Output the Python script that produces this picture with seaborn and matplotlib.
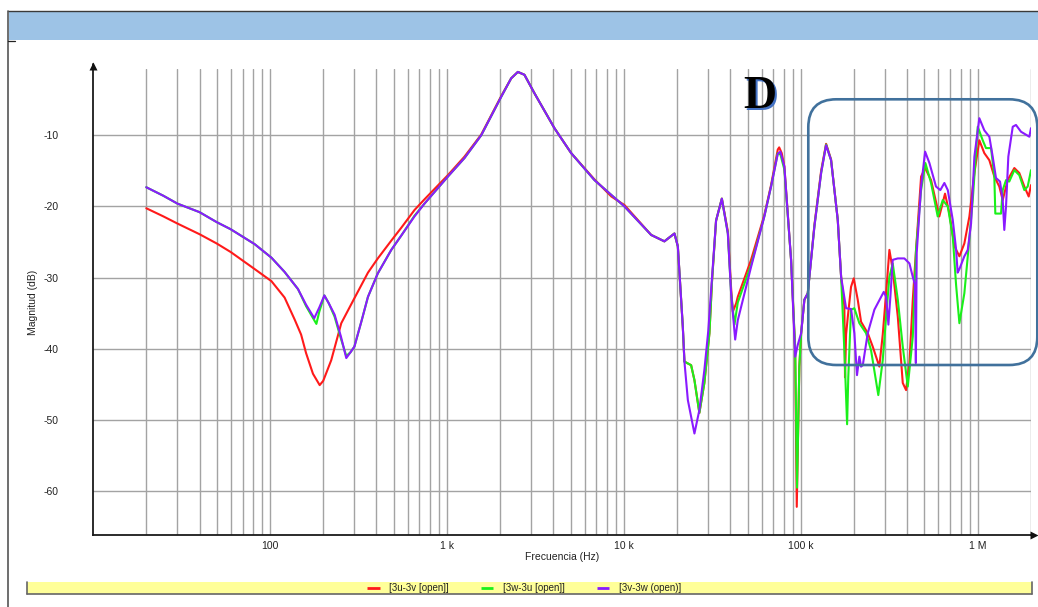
import matplotlib
matplotlib.use("Agg")
import matplotlib.pyplot as plt
import numpy as np
import pandas as pd
import seaborn as sns
from matplotlib.patches import Rectangle, FancyBboxPatch
from matplotlib.ticker import FixedLocator, NullFormatter

sns.set_theme(style="white")
plt.rcParams['font.family'] = ['Liberation Sans', 'DejaVu Sans']

# ---------------- data ----------------
series_names = ["[3u-3v [open]]", "[3w-3u [open]]", "[3v-3w (open)]"]
series_colors = ["#FF1A1A", "#1AF01A", "#8A1AFF"]

freq_red = [20, 25, 30, 40, 50, 60, 82, 102, 121, 138, 150, 160, 175, 191, 200, 222, 253, 300, 358, 407,
            485, 552, 656, 747, 1013, 1257, 1563, 2027, 2308, 2518, 2743, 3126, 4053, 5037, 6823, 8500,
            10080, 14270, 16950, 19320, 20190, 21540, 22000, 24000, 25060, 26720, 28510, 30460, 31500,
            33200, 35800, 38710, 40390, 41280, 43140, 44040, 52360, 62230, 67920, 74130, 75500, 78000,
            80760, 88120, 92890, 94900, 98130, 100470, 104800, 109500, 119400, 130300, 139000, 148300,
            161800, 169000, 176300, 177800, 180300, 184400, 192300, 199200, 209800, 219100, 239000,
            255100, 277900, 290500, 303500, 316800, 330800, 353400, 377000, 393600, 411000, 429500,
            448100, 478600, 504200, 544700, 606500, 653300, 691900, 738400, 787700, 840100, 897300,
            957300, 1021000, 1089000, 1163000, 1241000, 1324000, 1384000, 1476000, 1610000, 1718000,
            1834000, 1941000, 2000000]
db_red = [-20.25, -21.4, -22.4, -23.9, -25.2, -26.4, -28.8, -30.5, -32.8, -35.9, -38.0, -40.6, -43.5, -45.1,
          -44.5, -41.6, -36.4, -32.9, -29.3, -27.3, -24.8, -23.0, -20.5, -19.0, -15.6, -13.0, -9.9, -4.5,
          -2.0, -1.1, -1.5, -4.1, -9.0, -12.5, -16.2, -18.6, -19.8, -24.0, -24.9, -23.8, -25.6, -36.9,
          -41.8, -42.3, -44.4, -49.0, -44.8, -37.8, -30.5, -22.0, -18.9, -23.5, -31.5, -34.8, -33.6,
          -32.7, -27.5, -21.2, -17.0, -12.0, -11.7, -12.5, -14.4, -27.5, -40.0, -62.2, -42.5, -37.8,
          -33.1, -32.2, -22.6, -15.0, -11.2, -13.4, -21.9, -29.9, -34.0, -44.0, -38.0, -35.5, -31.3,
          -30.1, -33.1, -36.2, -37.8, -39.7, -42.5, -38.0, -32.2, -26.1, -28.9, -35.5, -44.8, -45.8,
          -42.0, -33.1, -26.1, -15.8, -14.6, -16.3, -21.4, -18.2, -21.0, -25.6, -27.0, -25.2, -21.4,
          -15.3, -10.7, -12.5, -13.5, -15.8, -17.2, -19.1, -16.3, -14.6, -15.3, -17.2, -18.6, -17.0]

freq_green = [20, 25, 30, 40, 50, 60, 82, 102, 121, 144, 160, 183, 190, 203, 215, 232, 252, 270, 285, 300,
              330, 358, 407, 485, 552, 656, 747, 1013, 1257, 1563, 2027, 2308, 2518, 2743, 3126, 4053,
              5037, 6823, 10080, 14270, 16950, 19320, 20190, 21540, 22000, 24000, 25060, 26720, 28510,
              30460, 31500, 33200, 35800, 38710, 40390, 42190, 44040, 52360, 62230, 67920, 74130, 76700,
              80760, 88120, 93000, 95200, 98130, 100470, 104800, 109500, 119400, 130300, 139000, 148300,
              161800, 169000, 176300, 182700, 185500, 192300, 200800, 214300, 233800, 249500, 274200,
              290500, 303500, 316800, 330800, 353400, 377000, 402400, 429500, 448100, 478600, 506100,
              544700, 594000, 634200, 677300, 722600, 754300, 787700, 840100, 878400, 937000, 1000000,
              1067000, 1113000, 1189000, 1241000, 1257000, 1354000, 1384000, 1445000, 1507000, 1610000,
              1718000, 1834000, 1916000, 2000000]
db_green = [-17.3, -18.5, -19.6, -20.8, -22.2, -23.2, -25.3, -27.2, -29.2, -31.6, -34.0, -36.5, -34.8, -32.5,
            -33.6, -35.5, -38.6, -41.0, -40.5, -39.7, -36.0, -32.7, -29.4, -26.1, -24.1, -21.3, -19.6,
            -15.8, -13.2, -10.0, -4.6, -2.0, -1.1, -1.5, -4.1, -9.0, -12.5, -16.3, -20.0, -24.0, -24.9,
            -23.8, -25.6, -36.9, -41.8, -42.3, -44.4, -49.0, -44.8, -37.8, -30.5, -22.0, -18.9, -23.8,
            -32.2, -36.6, -33.5, -28.2, -21.4, -17.2, -12.5, -12.7, -14.8, -27.5, -40.0, -59.5, -42.5,
            -37.8, -33.1, -32.2, -22.8, -15.3, -11.3, -13.5, -21.9, -29.9, -40.2, -50.6, -44.0, -34.5,
            -34.3, -36.4, -37.8, -40.2, -46.5, -41.6, -35.5, -29.9, -28.0, -33.1, -39.7, -45.3, -38.3,
            -26.1, -17.7, -13.9, -16.7, -21.4, -19.1, -20.0, -24.2, -31.0, -36.4, -32.2, -27.0, -19.1,
            -8.8, -10.7, -11.8, -11.8, -15.8, -21.0, -21.0, -17.7, -16.3, -16.5, -14.9, -15.6, -17.7,
            -17.2, -14.9]

freq_purple = [20, 25, 30, 40, 50, 60, 82, 102, 121, 144, 160, 178, 190, 203, 215, 232, 252, 270, 285, 300,
               330, 358, 407, 485, 552, 656, 747, 1013, 1257, 1563, 2027, 2308, 2518, 2743, 3126, 4053,
               5037, 6823, 10080, 14270, 16950, 19320, 20190, 21540, 22000, 23000, 25060, 26720, 28510,
               30000, 31500, 33200, 35800, 38710, 40390, 42580, 44040, 52360, 62230, 67920, 74130, 76700,
               80760, 88120, 93000, 96000, 100470, 104800, 109500, 119400, 130300, 139000, 148300,
               161800, 169000, 180300, 192300, 200800, 207800, 214300, 219100, 224100, 239000, 260600,
               294400, 303500, 312700, 320800, 330800, 353400, 385000, 411000, 429500, 442000, 447000,
               452000, 478600, 504200, 533300, 581000, 614800, 647800, 677300, 722600, 754300, 770000,
               787700, 840100, 878400, 916900, 957300, 1021000, 1089000, 1163000, 1215000, 1268000,
               1336000, 1384000, 1413000, 1445000, 1489000, 1577000, 1645000, 1756000, 1957000, 2000000]
db_purple = [-17.3, -18.5, -19.6, -20.8, -22.2, -23.2, -25.3, -27.2, -29.2, -31.6, -33.8, -35.7, -34.2,
             -32.5, -33.6, -35.2, -38.3, -41.3, -40.5, -39.7, -36.0, -32.7, -29.4, -26.1, -24.1, -21.4,
             -19.6, -15.8, -13.2, -10.0, -4.6, -2.0, -1.1, -1.5, -4.1, -9.0, -12.5, -16.3, -20.0, -24.0,
             -24.9, -23.8, -25.6, -36.9, -41.8, -47.2, -51.9, -48.6, -43.0, -37.5, -30.0, -22.0, -18.9,
             -23.8, -32.2, -38.7, -36.0, -28.5, -21.4, -17.2, -12.6, -12.3, -14.4, -27.5, -41.1, -39.5,
             -37.8, -33.1, -32.2, -22.8, -15.3, -11.4, -13.5, -21.9, -29.9, -34.3, -34.4, -37.8, -43.7,
             -41.1, -42.5, -42.3, -37.8, -34.5, -32.0, -32.7, -36.6, -32.7, -27.5, -27.3, -27.3, -28.0,
             -29.9, -31.0, -42.0, -26.5, -17.2, -12.3, -13.9, -17.2, -17.7, -16.7, -17.7, -21.9, -26.0,
             -29.3, -28.8, -27.0, -26.1, -22.4, -13.0, -7.6, -9.3, -10.2, -13.0, -16.0, -16.5, -19.1,
             -23.3, -20.0, -13.0, -8.8, -8.55, -9.5, -10.2, -9.0]

y_ticks = [-60, -50, -40, -30, -20, -10]
x_major = [100, 1000, 10000, 100000, 1000000]
x_major_labels = ["100", "1 k", "10 k", "100 k", "1 M"]

frames = []
for name, f, d in zip(series_names, [freq_red, freq_green, freq_purple], [db_red, db_green, db_purple]):
    frames.append(pd.DataFrame({"freq": f, "db": d, "serie": name}))
df = pd.concat(frames, ignore_index=True)

# ---------------- figure ----------------
W, H = 1038, 607
fig = plt.figure(figsize=(W / 100, H / 100), dpi=100)
fig.patch.set_facecolor("white")

ax_l, ax_r, ax_t, ax_b = 93, 1031, 69.3, 535.3
ax = fig.add_axes([ax_l / W, 1 - ax_b / H, (ax_r - ax_l) / W, (ax_b - ax_t) / H])
ax.set_facecolor("white")

sns.lineplot(data=df, x="freq", y="db", hue="serie", hue_order=series_names,
             palette=dict(zip(series_names, series_colors)), sort=False, estimator=None,
             linewidth=1.5, legend=False, ax=ax)

ax.set_xscale("log")
ax.set_xlim(10, 2e6)
ax.set_ylim(-66.2, -0.73)

minor = [k * 10 ** e for e in range(1, 6) for k in range(2, 10)] + [2e6]
ax.xaxis.set_major_locator(FixedLocator(x_major))
ax.set_xticklabels(x_major_labels)
ax.xaxis.set_minor_locator(FixedLocator(minor))
ax.xaxis.set_minor_formatter(NullFormatter())
ax.set_yticks(y_ticks)
ax.set_yticklabels([str(v) for v in y_ticks])

grid_kw = dict(color="#A3A3A3", linewidth=1.0)
ax.grid(True, which="both", axis="x", **grid_kw)
ax.grid(True, which="major", axis="y", **grid_kw)
ax.set_axisbelow(True)

ax.tick_params(axis="both", which="both", length=0, labelsize=7.5, colors="#222222")
ax.tick_params(axis="y", pad=24.5)
ax.tick_params(axis="x", pad=4.4)
ax.set_xlabel("")
ax.set_ylabel("")
for s in ["top", "right"]:
    ax.spines[s].set_visible(False)
for s in ["left", "bottom"]:
    ax.spines[s].set_color("#1a1a1a")
    ax.spines[s].set_linewidth(1.3)

# ---------------- overlay (pixel coords) ----------------
ov = fig.add_axes([0, 0, 1, 1], zorder=5)
ov.set_xlim(0, W)
ov.set_ylim(H, 0)
ov.axis("off")
ov.patch.set_alpha(0)

# header band
ov.add_patch(Rectangle((8.5, 11.5), W - 8.5, 28.8, facecolor="#9DC3E6", edgecolor="none"))
ov.plot([7.5, W], [11, 11], color="#3a3a3a", lw=1.0)
ov.plot([7.5, 7.5], [11, H], color="#555555", lw=1.2)
ov.plot([8, 15], [40.5, 40.5], color="#222222", lw=0.9)

# axis arrows
ov.plot([ax_l, ax_l], [64, ax_t], color="#1a1a1a", lw=1.3)
ov.plot([ax_l], [65.5], marker="^", ms=6, color="#111111", mec="none")
ov.plot([ax_r, 1034], [ax_b, ax_b], color="#1a1a1a", lw=1.3)
ov.plot([1033.5], [ax_b], marker=">", ms=6, color="#111111", mec="none")

# axis titles
ov.text(33, 302, "Magnitud (dB)", rotation=90, ha="center", va="center", fontsize=7.5, color="#222222")
ov.text(562, 557.5, "Frecuencia (Hz)", ha="center", va="center", fontsize=7.5, color="#222222")

# legend bar
ov.add_patch(Rectangle((27, 582), 1005, 12, facecolor="#FFFF99", edgecolor="none"))
ov.plot([27, 27], [582, 594], color="#666666", lw=1.2)
ov.plot([27, 1032], [594, 594], color="#666666", lw=1.2)
ov.plot([1032, 1032], [582, 594], color="#666666", lw=1.2)
leg_line_x = [(367, 380), (481, 493), (597, 609)]
leg_text_x = [389, 503, 619]
for (x0, x1), tx, name, c in zip(leg_line_x, leg_text_x, series_names, series_colors):
    ov.plot([x0, x1], [588.3, 588.3], color=c, lw=2.0, solid_capstyle="butt")
    ov.text(tx, 588.3, name, ha="left", va="center", fontsize=7, color="#222222")

# annotation "D" and rounded box
ov.text(762, 98.5, "D", family=["Liberation Serif", "DejaVu Serif"], fontweight="bold", fontsize=33,
        color="#4472C4", ha="center", va="center")
ov.text(760, 96.5, "D", family=["Liberation Serif", "DejaVu Serif"], fontweight="bold", fontsize=33,
        color="#000000", ha="center", va="center")
ov.add_patch(FancyBboxPatch((808.3, 99.3), 229, 265.7, boxstyle="round,pad=0,rounding_size=28",
                            facecolor="none", edgecolor="#41719C", lw=1.9))

fig.savefig("out.png", dpi=100, facecolor="white")
